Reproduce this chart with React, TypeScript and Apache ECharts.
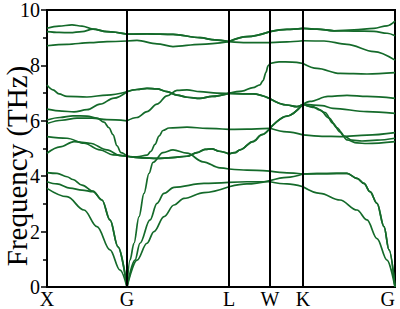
import React, { useEffect, useRef } from "react";
import * as echarts from "echarts";

// High-symmetry points along the k-path (distance units)
const HS_K = [0, 80, 182, 223, 256, 348];
const HS_LABELS = ["X", "G", "L", "W", "K", "G"];
const Y_TICKS = [0, 2, 4, 6, 8, 10];
const Y_TITLE = "Frequency (THz)";

// Phonon branches: [k, frequency (THz)]
const band1 = [
  [0, 3.56], [20, 3.26], [37, 2.78], [50, 2.18], [63, 1.34], [73, 0.61], [80, 0],
  [90, 0.97], [100, 1.58], [107, 2.0], [117, 2.54], [127, 2.96], [137, 3.2], [157, 3.41], [182, 3.62],
  [200, 3.72], [223, 3.84], [240, 3.96], [256, 4.08],
  [270, 4.09], [290, 4.1], [300, 4.1], [310, 3.92], [317, 3.74], [323, 3.44], [330, 3.02], [337, 2.18], [342, 1.34], [348, 0],
];
const band2 = [
  [0, 3.8], [10, 3.72], [23, 3.57], [35, 3.5], [46, 3.44], [55, 3.14], [63, 2.42], [71, 1.45], [80, 0],
  [88, 0.97], [93, 1.58], [103, 2.42], [110, 3.02], [117, 3.38], [127, 3.6], [157, 3.74], [182, 3.78],
  [200, 3.8], [223, 3.8], [240, 3.72], [256, 3.62],
  [273, 3.38], [293, 3.14], [310, 2.78], [320, 2.42], [330, 1.75], [340, 0.97], [348, 0],
];
const band3 = [
  [0, 4.13], [10, 4.1], [20, 3.98], [26, 3.88], [35, 3.68], [46, 3.46], [55, 3.14], [63, 2.42], [71, 1.45], [80, 0],
  [83, 0.97], [87, 1.58], [92, 2.54], [97, 3.38], [102, 4.1], [106, 4.5], [116, 4.85], [126, 4.95], [140, 4.83], [156, 4.52], [173, 4.3], [182, 4.26],
  [200, 4.22], [223, 4.18], [240, 4.12], [256, 4.08],
  [270, 4.09], [290, 4.1], [300, 4.1], [310, 3.92], [317, 3.74], [323, 3.44], [330, 3.02], [337, 2.18], [342, 1.34], [348, 0],
];
const band4 = [
  [0, 4.83], [13, 5.06], [27, 5.25], [43, 5.19], [60, 4.95], [73, 4.74], [80, 4.72],
  [95, 4.66], [110, 4.64], [125, 4.67], [140, 4.72], [150, 4.85], [158, 4.97], [165, 4.99], [172, 4.9], [182, 4.8],
  [188, 4.85], [193, 4.95], [206, 5.25], [215, 5.5], [223, 5.73], [240, 6.17], [256, 6.6],
  [268, 6.48], [278, 6.3], [286, 5.91], [293, 5.6], [300, 5.31], [310, 5.2], [320, 5.18], [348, 5.25],
];
const band5 = [
  [0, 5.43], [20, 5.37], [37, 5.19], [53, 4.95], [66, 4.77], [80, 4.72],
  [95, 4.66], [110, 4.64], [125, 4.67], [140, 4.72], [150, 4.85], [158, 4.97], [165, 4.99], [172, 4.9], [182, 4.8],
  [188, 4.85], [193, 4.95], [206, 5.25], [215, 5.5], [223, 5.73], [240, 6.17], [256, 6.6],
  [265, 6.52], [273, 6.39], [282, 6.1], [290, 5.75], [297, 5.45], [305, 5.3], [315, 5.27], [330, 5.3], [348, 5.37],
];
const band6 = [
  [0, 5.9], [15, 6.02], [30, 6.1], [45, 6.1], [60, 6.04], [80, 6.0],
  [90, 6.12], [100, 6.33], [110, 6.6], [120, 6.9], [130, 7.1], [140, 7.12], [153, 7.05], [170, 7.0], [182, 6.99],
  [206, 6.97], [223, 6.8], [240, 6.57], [250, 6.51], [256, 6.6],
  [263, 6.7], [281, 6.88], [300, 6.92], [320, 6.88], [348, 6.81],
];
const band7 = [
  [0, 6.03], [13, 6.12], [26, 6.18], [40, 6.17], [50, 6.1], [57, 5.95], [62, 5.75], [66, 5.5], [70, 5.1], [74, 4.85], [80, 4.72],
  [90, 4.7], [100, 4.76], [104, 4.9], [108, 5.15], [112, 5.45], [116, 5.65], [122, 5.74], [140, 5.77], [160, 5.73], [182, 5.69],
  [200, 5.7], [223, 5.73], [240, 5.6], [256, 5.49],
  [275, 5.44], [293, 5.43], [320, 5.48], [348, 5.57],
];
const band8 = [
  [0, 6.42], [15, 6.35], [27, 6.32], [40, 6.4], [53, 6.6], [67, 6.82], [80, 7.05],
  [90, 7.13], [100, 7.17], [110, 7.15], [120, 7.05], [130, 6.93], [140, 6.85], [153, 6.81], [165, 6.88], [182, 6.99],
  [206, 6.97], [223, 6.8], [240, 6.57], [250, 6.51], [256, 6.6],
  [275, 6.55], [286, 6.45], [320, 6.33], [348, 6.27],
];
const band9 = [
  [0, 7.29], [6, 7.12], [12, 6.97], [20, 6.88], [40, 6.86], [60, 6.93], [80, 7.05],
  [90, 7.13], [100, 7.17], [110, 7.15], [120, 7.05], [130, 6.93], [140, 6.85], [153, 6.81], [165, 6.88], [182, 6.99],
  [195, 7.07], [206, 7.2], [213, 7.3], [216, 7.45], [219, 7.75], [221, 7.98], [223, 8.07], [232, 8.13], [245, 8.12], [256, 8.07],
  [270, 7.89], [293, 7.71], [320, 7.69], [348, 7.74],
];
const band10 = [
  [0, 8.71], [20, 8.76], [43, 8.82], [60, 8.86], [80, 8.88],
  [90, 8.9], [110, 8.78], [126, 8.68], [153, 8.76], [182, 8.86],
  [200, 8.82], [223, 8.82], [240, 8.85], [256, 8.89],
  [277, 8.88], [300, 8.76], [327, 8.5], [348, 8.19],
];
const band11 = [
  [0, 9.22], [12, 9.19], [23, 9.18], [35, 9.22], [46, 9.31], [60, 9.22], [80, 9.13],
  [100, 9.14], [126, 9.12], [153, 9.0], [168, 8.92], [182, 8.86],
  [200, 9.04], [223, 9.22], [240, 9.3], [256, 9.34],
  [270, 9.31], [287, 9.25], [307, 9.24], [327, 9.23], [340, 9.16], [348, 9.07],
];
const band12 = [
  [0, 9.34], [12, 9.42], [25, 9.46], [35, 9.42], [46, 9.31], [60, 9.22], [80, 9.13],
  [100, 9.14], [126, 9.12], [153, 9.0], [168, 8.92], [182, 8.86],
  [200, 9.04], [223, 9.22], [240, 9.3], [256, 9.34],
  [270, 9.31], [287, 9.25], [307, 9.28], [327, 9.34], [340, 9.43], [348, 9.6],
];

const BANDS = [band1, band2, band3, band4, band5, band6, band7, band8, band9, band10, band11, band12];

const LINE_COLOR = "#146a2a";
const FONT = "Liberation Serif";

export default function App() {
  const ref = useRef<HTMLDivElement>(null);

  useEffect(() => {
    if (!ref.current) return;
    const chart = echarts.init(ref.current, undefined, { renderer: "svg" });

    const series: any[] = [];
    BANDS.forEach((band, bi) => {
      for (let s = 0; s < HS_K.length - 1; s++) {
        const a = HS_K[s];
        const b = HS_K[s + 1];
        const seg = band.filter((p) => p[0] >= a && p[0] <= b);
        series.push({
          type: "line",
          name: "band" + (bi + 1),
          data: seg,
          smooth: 0.35,
          smoothMonotone: "x",
          showSymbol: false,
          symbol: "none",
          silent: true,
          clip: true,
          lineStyle: { color: LINE_COLOR, width: 1.7 },
          z: 3,
        });
      }
    });

    series.push({
      type: "line",
      data: [],
      silent: true,
      markLine: {
        silent: true,
        symbol: "none",
        label: { show: false },
        lineStyle: { color: "#000", width: 2, type: "solid" },
        data: HS_K.slice(1, -1).map((k) => ({ xAxis: k })),
      },
      z: 4,
    });

    chart.setOption({
      animation: false,
      textStyle: { fontFamily: FONT, color: "#000" },
      grid: {
        left: 47,
        right: 5,
        top: 10,
        bottom: 22,
        outerBoundsMode: "none",
        containLabel: false,
        show: true,
        borderColor: "#000",
        borderWidth: 2,
      },
      graphic: [
        {
          type: "text",
          x: 17,
          y: 166,
          rotation: Math.PI / 2,
          silent: true,
          style: {
            text: Y_TITLE,
            fill: "#000",
            fontFamily: FONT,
            fontSize: 29,
            textAlign: "center",
            textVerticalAlign: "middle",
          },
        },
      ],
      xAxis: {
        type: "value",
        min: HS_K[0],
        max: HS_K[HS_K.length - 1],
        axisLine: { show: true, lineStyle: { color: "#000", width: 2 } },
        axisTick: { show: false },
        splitLine: { show: false },
        axisLabel: {
          customValues: HS_K,
          formatter: (v: number) => {
            const i = HS_K.indexOf(v);
            return i >= 0 ? HS_LABELS[i] : "";
          },
          color: "#000",
          fontFamily: FONT,
          fontSize: 20,
          lineHeight: 18,
          margin: 3,
          showMinLabel: true,
          showMaxLabel: true,
          alignMaxLabel: "right",
        },
      },
      yAxis: {
        type: "value",
        min: Y_TICKS[0],
        max: Y_TICKS[Y_TICKS.length - 1],
        interval: 2,
        axisLine: { show: true, lineStyle: { color: "#000", width: 2 } },
        axisTick: { show: true, inside: false, length: 6, lineStyle: { color: "#000", width: 1.5 } },
        minorTick: { show: true, splitNumber: 2, length: 4, lineStyle: { color: "#000", width: 1.5 } },
        splitLine: { show: false },
        axisLabel: { color: "#000", fontFamily: FONT, fontSize: 20, margin: 7 },
      },
      series,
    });

    return () => chart.dispose();
  }, []);

  return (
    <div
      ref={ref}
      style={{ position: "fixed", left: 0, top: 0, width: 400, height: 309, background: "#fff" }}
    />
  );
}
